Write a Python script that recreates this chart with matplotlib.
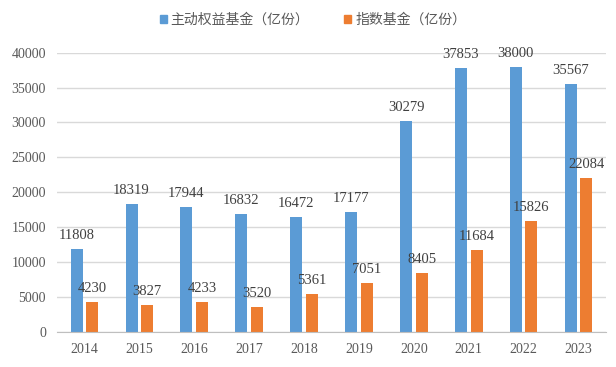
import numpy as np
import matplotlib.pyplot as plt
from matplotlib.patches import Patch

years = ['2014', '2015', '2016', '2017', '2018', '2019', '2020', '2021', '2022', '2023']
active = [11808, 18319, 17944, 16832, 16472, 17177, 30279, 37853, 38000, 35567]
index_funds = [4230, 3827, 4233, 3520, 5361, 7051, 8405, 11684, 15826, 22084]
names = ['主动权益基金（亿份）', '指数基金（亿份）']

blue = '#5B9BD5'
orange = '#ED7D31'

fig = plt.figure(figsize=(6.16, 3.67), dpi=100)
ax = fig.add_axes([57 / 616, 1 - 331.7 / 367, (606 - 57) / 616, (331.7 - 52.7) / 367])

x = np.arange(len(years))
w = 0.22
off = 0.142
b1 = ax.bar(x - off, active, w, color=blue, zorder=3)
b2 = ax.bar(x + off, index_funds, w, color=orange, zorder=3)

for bars, vals in ((b1, active), (b2, index_funds)):
    for r, v in zip(bars, vals):
        ax.annotate(str(v), (r.get_x() + r.get_width() / 2, v), xytext=(0, 5),
                    textcoords='offset points', ha='center', va='bottom',
                    fontsize=10.5, family='Liberation Serif', color='#404040', zorder=4)

ax.set_xlim(-0.5, len(years) - 0.5)
ax.set_ylim(0, 40000)
ax.set_yticks(range(0, 40001, 5000))
ax.set_xticks(x)
ax.set_xticklabels(years)
for lab in ax.get_xticklabels() + ax.get_yticklabels():
    lab.set_family('Liberation Serif')
    lab.set_fontsize(10)
    lab.set_color('#595959')
ax.tick_params(length=0, pad=8)
ax.grid(axis='y', color='#D9D9D9', linewidth=1, zorder=0)
for s in ['top', 'right', 'left']:
    ax.spines[s].set_visible(False)
ax.spines['bottom'].set_color('#BFBFBF')
ax.spines['bottom'].set_zorder(3)

handles = [Patch(color=blue), Patch(color=orange)]
fig.legend(handles, names, loc='upper center', bbox_to_anchor=(0.508, 1.0), ncol=2,
           frameon=False, handlelength=0.5, handleheight=0.5, handletextpad=0.3,
           columnspacing=2.5, prop={'family': ['Noto Sans CJK SC', 'DejaVu Sans'], 'size': 10},
           labelcolor='#595959')

fig.savefig('out.png', dpi=100)
